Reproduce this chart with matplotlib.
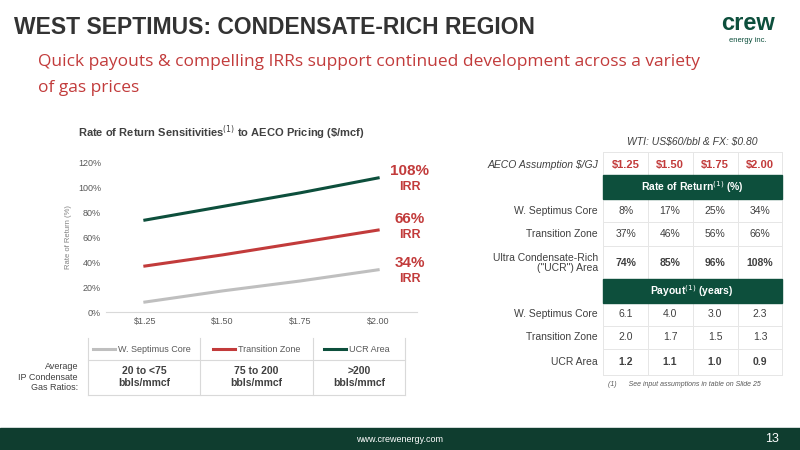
import matplotlib.pyplot as plt
from matplotlib.patches import Rectangle
from matplotlib.lines import Line2D

plt.rcParams["font.family"] = ["Liberation Sans", "DejaVu Sans"]

prices = ["$1.25", "$1.50", "$1.75", "$2.00"]
series_names = ["W. Septimus Core", "Transition Zone", "UCR Area"]
core_irr = [8, 17, 25, 34]
transition_irr = [37, 46, 56, 66]
ucr_irr = [74, 85, 96, 108]
core_payout = ["6.1", "4.0", "3.0", "2.3"]
transition_payout = ["2.0", "1.7", "1.5", "1.3"]
ucr_payout = ["1.2", "1.1", "1.0", "0.9"]
ratios = ["20 to <75\nbbls/mmcf", "75 to 200\nbbls/mmcf", ">200\nbbls/mmcf"]

GREEN = "#0d4f3c"
RED = "#c23b3b"
GREY = "#bfbfbf"
TXT = "#404040"
colors = [GREY, RED, GREEN]

fig = plt.figure(figsize=(8, 4.5), dpi=100)
W, H = 800, 450


def fx(x):
    return x / W


def fy(y):
    return 1 - y / H


def t(x, y, s, **kw):
    fig.text(fx(x), fy(y), s, zorder=5, **kw)


# title area
t(14, 27, "WEST SEPTIMUS: CONDENSATE-RICH REGION", fontsize=16.5, weight="bold",
  color="#333333", va="center")
t(38, 62, "Quick payouts & compelling IRRs support continued development across a variety",
  fontsize=12.5, color=RED, va="center", family="Open Sans")
t(38, 88, "of gas prices", fontsize=12.5, color=RED, va="center", family="Open Sans")
t(748, 24, "crew", fontsize=17, weight="bold", color=GREEN, va="center", ha="center")
t(748, 41, "energy inc.", fontsize=5.5, color=GREEN, va="center", ha="center")

# chart
ax = fig.add_axes([fx(106), fy(312), fx(311), 149 / H])
x = range(len(prices))
for vals, c, name in zip([core_irr, transition_irr, ucr_irr], colors, series_names):
    ax.plot(x, vals, color=c, lw=2.2, label=name)
ax.set_xlim(-0.5, 3.5)
ax.set_ylim(0, 120)
ax.set_yticks(range(0, 121, 20))
ax.set_yticklabels([f"{v}%" for v in range(0, 121, 20)])
ax.set_xticks(list(x))
ax.set_xticklabels(prices)
ax.tick_params(colors="#595959", labelsize=6.5, length=0)
for s in ["top", "right", "left"]:
    ax.spines[s].set_visible(False)
ax.spines["bottom"].set_color("#d9d9d9")
ax.set_ylabel("Rate of Return (%)", fontsize=5.5, color="#808080")
t(221, 133, r"Rate of Return Sensitivities$^{(1)}$ to AECO Pricing (\$/mcf)", fontsize=8,
  weight="bold", color="#404040", ha="center", va="center")
for vals, yv in zip([ucr_irr, transition_irr, core_irr], [171, 219, 263]):
    t(410, yv, f"{vals[-1]}%", fontsize=11, weight="bold", color=RED, ha="center", va="center")
    t(410, yv + 16, "IRR", fontsize=9, weight="bold", color=RED, ha="center", va="center")

# legend / ratio table
lc = "#d9d9d9"
for xx in [88, 200, 313, 405]:
    fig.add_artist(Line2D([fx(xx)] * 2, [fy(338), fy(395)], color=lc, lw=0.8))
for yy in [360, 395]:
    fig.add_artist(Line2D([fx(88), fx(405)], [fy(yy)] * 2, color=lc, lw=0.8))
for i, (name, c) in enumerate(zip(series_names, colors)):
    x0 = [93, 213, 324][i]
    fig.add_artist(Line2D([fx(x0), fx(x0 + 22)], [fy(349)] * 2, color=c, lw=2.2))
    t(x0 + 25, 349, name, fontsize=6.5, color="#595959", va="center")
    t([144, 256, 359][i], 377, ratios[i], fontsize=7.5, weight="bold", color=TXT,
      ha="center", va="center")
t(78, 377, "Average\nIP Condensate\nGas Ratios:", fontsize=6.5, color=TXT, ha="right",
  va="center", linespacing=1.2)

# right table
cols = [626, 670, 715, 760]
edges = [603, 648, 693, 738, 782]
t(692, 142, r"WTI: US\$60/bbl & FX: \$0.80", fontsize=7.5, style="italic", color=TXT, ha="center",
  va="center")
t(598, 165, "AECO Assumption $/GJ", fontsize=7.5, style="italic", color=TXT, ha="right", va="center")
for cx, p in zip(cols, prices):
    t(cx, 165, p, fontsize=8, weight="bold", color=RED, ha="center", va="center")
for yy in [152, 176, 222, 246, 280, 326, 349, 375]:
    fig.add_artist(Line2D([fx(603), fx(782)], [fy(yy)] * 2, color="#e6e6e6", lw=0.7))
for xx in edges:
    fig.add_artist(Line2D([fx(xx)] * 2, [fy(152), fy(375)], color="#e6e6e6", lw=0.7))
for yy, head in [(187, "Rate of Return$^{(1)}$ (%)"), (291, "Payout$^{(1)}$ (years)")]:
    fig.add_artist(Rectangle((fx(603), fy(yy + 12)), fx(782 - 603), 24 / H, color=GREEN,
                             zorder=3))
    t(692, yy, head, fontsize=7.5, weight="bold", color="white", ha="center", va="center")
rows = [
    (211, "W. Septimus Core", [f"{v}%" for v in core_irr], "normal"),
    (234, "Transition Zone", [f"{v}%" for v in transition_irr], "normal"),
    (263, "Ultra Condensate-Rich\n(\"UCR\") Area", [f"{v}%" for v in ucr_irr], "bold"),
    (314, "W. Septimus Core", core_payout, "normal"),
    (337, "Transition Zone", transition_payout, "normal"),
    (362, "UCR Area", ucr_payout, "bold"),
]
for yy, label, vals, wt in rows:
    t(598, yy, label, fontsize=7.5, color=TXT, ha="right", va="center", linespacing=1.1)
    for cx, v in zip(cols, vals):
        t(cx, yy, v, fontsize=7.5, color=TXT, weight=wt, ha="center", va="center")
t(608, 385, "(1)      See input assumptions in table on Slide 25", fontsize=5, style="italic",
  color="#595959", va="center")

# footer
fig.add_artist(Rectangle((0, 0), 1, 22 / H, color="#0f3d2f", zorder=3))
t(400, 439, "www.crewenergy.com", fontsize=6.5, color="white", ha="center", va="center")
t(772, 439, "13", fontsize=9, color="white", ha="center", va="center")

fig.savefig("out.png", dpi=100)
